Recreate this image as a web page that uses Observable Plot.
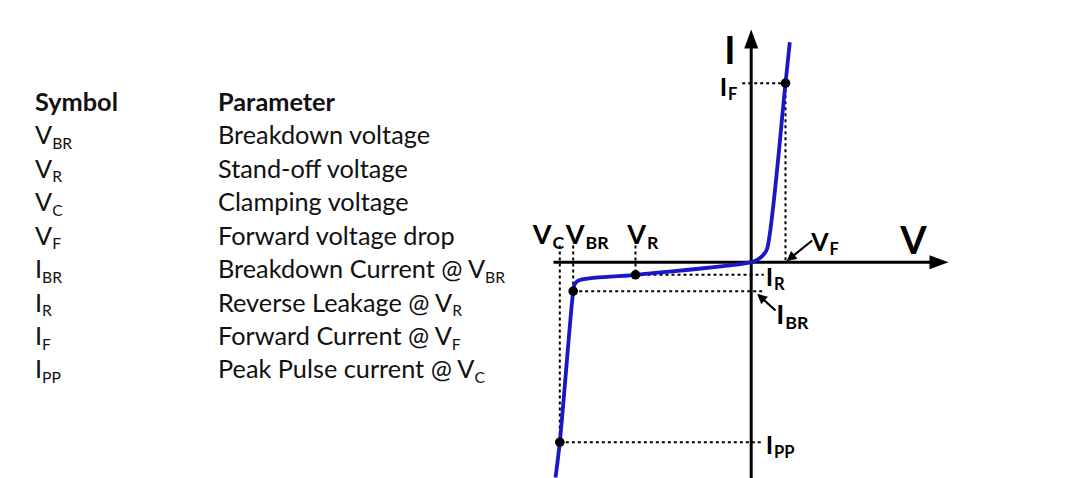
<!DOCTYPE html>
<html><head><meta charset="utf-8">
<script src="https://cdn.jsdelivr.net/npm/d3@7"></script>
<script src="https://cdn.jsdelivr.net/npm/@observablehq/plot@0.6"></script>
<style>
html,body{margin:0;padding:0;background:#fff;}
#wrap{position:relative;width:1077px;height:478px;overflow:hidden;background:#fff;}
#table{position:absolute;left:0;top:0;width:520px;height:478px;font-family:Lato,"Open Sans",sans-serif;font-size:25.3px;color:#111;}
.row{position:absolute;left:0;white-space:nowrap;line-height:34px;height:34px;}
.sym{position:absolute;left:35px;}
.par{position:absolute;left:218px;}
.sub{font-size:0.62em;position:relative;top:0.3em;}
.hdr{font-weight:bold;}
#chart{position:absolute;left:0;top:0;}
</style></head><body><div id="wrap"><div id="table"></div><div id="chart"></div></div>
<script>
// ---------- table data ----------
const headers = ["Symbol", "Parameter"];
const symbolMain = ["V", "V", "V", "V", "I", "I", "I", "I"];
const symbolSub = ["BR", "R", "C", "F", "BR", "R", "F", "PP"];
const paramText = ["Breakdown voltage", "Stand-off voltage", "Clamping voltage", "Forward voltage drop",
  "Breakdown Current @ V", "Reverse Leakage @ V", "Forward Current @ V", "Peak Pulse current @ V"];
const paramSub = ["", "", "", "", "BR", "R", "F", "C"];

// ---------- I-V curve (arbitrary units) ----------
const curveV = [-19.57, -19.14, -17.8, -17.67, -17.27, -11.57, 0, 0.73, 1.33, 1.6, 3.43, 3.86];
const curveI = [-21.53, -18.0, -2.9, -2.23, -1.83, -1.26, 0, 0.32, 0.87, 1.37, 17.9, 22.0];

// key operating points
const pointNames = ["VC/IPP", "VBR/IBR", "VR/IR", "VF/IF"];
const pointV = [-19.14, -17.8, -11.57, 3.43];
const pointI = [-18.0, -2.9, -1.26, 17.9];

// guide extents
const guideTopI = 1.67;     // top of the dotted verticals (under V labels)
const guideRightV = 1.26;   // right end of dotted horizontals (I labels)
const guideLeftIF = -0.9;   // left end of the IF dotted line

// labels ("main|sub")
const labelText = ["V|C", "V|BR", "V|R", "V|F", "I|F", "I|R", "I|BR", "I|PP", "I", "V"];
const labelV = [-21.85, -18.55, -12.4, 6.0, -3.15, 1.45, 2.5, 1.45, -2.7, 14.9];
const labelI = [1.84, 1.84, 1.84, 1.17, 16.67, -2.33, -6.16, -19.16, 19.84, 0.84];
const labelSize = [27, 27, 27, 25, 25, 25, 27, 25, 38, 38];

// pointer arrows (tail -> tip)
const arrowNames = ["VF", "IBR"];
const arrowV1 = [6.1, 2.43], arrowI1 = [2.17, -4.83];
const arrowV2 = [3.53, 0.6], arrowI2 = [0.1, -3.16];

// axes domain
const xDomain = [-19.77, 19.73];
const yDomain = [-21.63, 23.27];

// ---------- build table ----------
const table = d3.select("#table");
const baseTop = 83.8, rowStep = 33.45;
const hr = table.append("div").attr("class", "row hdr").style("top", baseTop + "px");
hr.append("span").attr("class", "sym").text(headers[0]);
hr.append("span").attr("class", "par").text(headers[1]);
symbolMain.forEach((m, i) => {
  const r = table.append("div").attr("class", "row").style("top", (baseTop + (i + 1) * rowStep) + "px");
  const s = r.append("span").attr("class", "sym");
  s.append("span").text(m);
  s.append("span").attr("class", "sub").text(symbolSub[i]);
  const p = r.append("span").attr("class", "par");
  p.append("span").text(paramText[i]);
  if (paramSub[i]) p.append("span").attr("class", "sub").text(paramSub[i]);
});

// ---------- chart ----------
const W = 1077, H = 478, mL = 553, mR = 129, mT = 29, mB = 0;
const kx = (W - mL - mR) / (xDomain[1] - xDomain[0]);
const ky = (H - mT - mB) / (yDomain[1] - yDomain[0]);

const curve = curveV.map((v, i) => ({v, i: curveI[i]}));
const points = pointV.map((v, k) => ({name: pointNames[k], v, i: pointI[k]}));

const [VC, VBR, VR, VF] = pointV;
const [IPP, IBR, IR, IF] = pointI;
const guides = [
  {x1: VC, y1: guideTopI, x2: VC, y2: IPP},
  {x1: VBR, y1: guideTopI, x2: VBR, y2: IBR},
  {x1: VR, y1: guideTopI, x2: VR, y2: IR},
  {x1: VF, y1: IF, x2: VF, y2: 0},
  {x1: guideLeftIF, y1: IF, x2: VF, y2: IF},
  {x1: VR, y1: IR, x2: guideRightV, y2: IR},
  {x1: VBR, y1: IBR, x2: guideRightV, y2: IBR},
  {x1: VC, y1: IPP, x2: guideRightV, y2: IPP}
];

const axisArrows = [
  {x1: xDomain[0], y1: 0, x2: xDomain[1], y2: 0, len: 19, hw: 7, w: 3},
  {x1: 0, y1: yDomain[0], x2: 0, y2: yDomain[1], len: 19, hw: 7, w: 3}
];
const pointerArrows = arrowNames.map((n, k) => ({x1: arrowV1[k], y1: arrowI1[k], x2: arrowV2[k], y2: arrowI2[k], len: 10, hw: 5, w: 2.2}));
const allArrows = axisArrows.concat(pointerArrows).map(a => {
  const dx = (a.x2 - a.x1) * kx, dy = -(a.y2 - a.y1) * ky;
  const L = Math.hypot(dx, dy);
  const ang = Math.atan2(dy, dx);
  const cut = a.len * 0.6;
  return {...a, ang, sx2: a.x2 - (dx / L) * cut / kx, sy2: a.y2 + (dy / L) * cut / ky};
});

function arrowHead(ang, len, hw) {
  return {draw(ctx) {
    const c = Math.cos(ang), s = Math.sin(ang);
    const bx = -len * c, by = -len * s;
    ctx.moveTo(0, 0);
    ctx.lineTo(bx - hw * s, by + hw * c);
    ctx.lineTo(bx + hw * s, by - hw * c);
    ctx.closePath();
  }};
}

const labels = labelText.map((t, k) => ({t, v: labelV[k], i: labelI[k], s: labelSize[k]}));

const marks = [
  Plot.link(guides, {x1: "x1", y1: "y1", x2: "x2", y2: "y2", stroke: "#000", strokeWidth: 2, strokeDasharray: "3,3"}),
  Plot.link(allArrows, {x1: "x1", y1: "y1", x2: "sx2", y2: "sy2", stroke: "#000", strokeWidth: d => d.w}),
];
allArrows.forEach(a => {
  marks.push(Plot.dot([a], {x: "x2", y: "y2", symbol: arrowHead(a.ang, a.len, a.hw), fill: "#000", stroke: "none"}));
});
marks.push(
  Plot.line(curve, {x: "v", y: "i", stroke: "#1818c8", strokeWidth: 3.8, curve: "catmull-rom", strokeLinecap: "butt"}),
  Plot.dot(points, {x: "v", y: "i", r: 4.8, fill: "#000", stroke: "none"}),
  Plot.text(labels, {x: "v", y: "i", text: "t", fontSize: "s", fontWeight: "bold", fontFamily: "Lato, 'Open Sans', sans-serif", textAnchor: "start", lineAnchor: "bottom", fill: "#000"})
);

const svg = Plot.plot({
  width: W, height: H, marginLeft: mL, marginRight: mR, marginTop: mT, marginBottom: mB,
  x: {domain: xDomain, axis: null},
  y: {domain: yDomain, axis: null},
  style: {background: "transparent", overflow: "visible"},
  marks
});

// turn "main|sub" into real subscript tspans
svg.querySelectorAll("text").forEach(t => {
  const txt = t.textContent;
  if (!txt.includes("|")) return;
  const [m, s] = txt.split("|");
  const fs = parseFloat(t.getAttribute("font-size") || getComputedStyle(t).fontSize || 24);
  t.textContent = "";
  const a = document.createElementNS("http://www.w3.org/2000/svg", "tspan");
  a.textContent = m;
  const b = document.createElementNS("http://www.w3.org/2000/svg", "tspan");
  b.textContent = s;
  b.setAttribute("font-size", (fs * 0.66).toFixed(1));
  b.setAttribute("dy", "0.28em");
  b.setAttribute("dx", "1");
  t.appendChild(a); t.appendChild(b);
});

document.getElementById("chart").appendChild(svg);
</script>
</body></html>
